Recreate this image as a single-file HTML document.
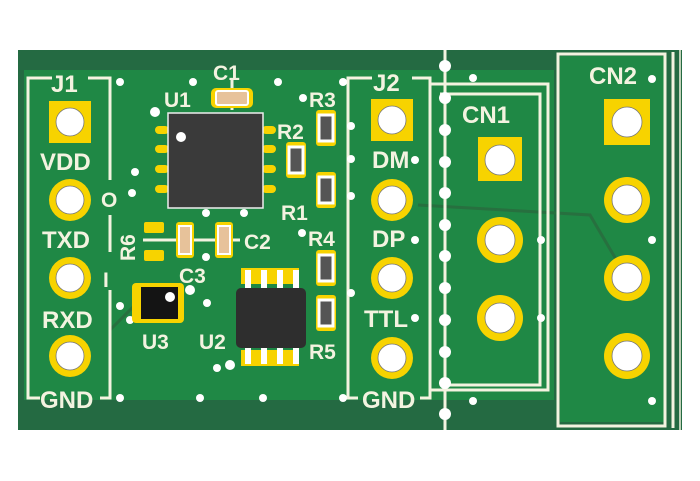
<!DOCTYPE html>
<html><head><style>body{margin:0;background:#fff}svg{display:block}</style></head><body>
<svg width="700" height="481" viewBox="0 0 700 481" xmlns="http://www.w3.org/2000/svg" font-family="Liberation Sans, sans-serif">
<rect x="18" y="50" width="664" height="380" fill="#246a42"/>
<rect x="24" y="70" width="530" height="330" fill="#1f8845"/>
<rect x="560" y="56" width="104" height="366" fill="#1f8845"/>
<!-- traces -->
<g stroke="#27703f" stroke-width="3" fill="none">
<path d="M418 205 L590 215 L627 278"/>
<path d="M110 330 L140 300"/>
</g>
<!-- silk outlines -->
<g stroke="#f3f3e0" stroke-width="3" fill="none">
<path d="M52 78 H28 V398 H40 M88 78 H110 V180 M110 215 V252 M110 290 V398 H100"/>
<path d="M372 78 H348 V398 H358 M412 78 H430 V398 H420"/>
<path d="M430 84 H548 V390 H430"/>
<path d="M440 94 H540 V385 H440"/>
<rect x="558" y="54" width="107" height="372"/>
<line x1="673" y1="52" x2="673" y2="428"/>
<line x1="445" y1="50" x2="445" y2="430"/>
<line x1="143" y1="240" x2="240" y2="240"/>
<line x1="232" y1="80" x2="232" y2="110"/>
</g>
<line x1="680" y1="50" x2="680" y2="430" stroke="#f3f3e0" stroke-width="1.5"/>
<g fill="#fff">
<circle cx="445" cy="66" r="6"/><circle cx="445" cy="98" r="6"/><circle cx="445" cy="130" r="6"/><circle cx="445" cy="162" r="6"/><circle cx="445" cy="193" r="6"/><circle cx="445" cy="225" r="6"/><circle cx="445" cy="256" r="6"/><circle cx="445" cy="288" r="6"/><circle cx="445" cy="320" r="6"/><circle cx="445" cy="352" r="6"/><circle cx="445" cy="383" r="6"/><circle cx="445" cy="414" r="6"/>
<circle cx="120" cy="82" r="4"/><circle cx="193" cy="82" r="4"/><circle cx="278" cy="82" r="4"/><circle cx="303" cy="98" r="4"/><circle cx="343" cy="82" r="4"/><circle cx="155" cy="112" r="5"/>
<circle cx="135" cy="172" r="4"/><circle cx="132" cy="193" r="4"/><circle cx="206" cy="213" r="4"/><circle cx="244" cy="213" r="4"/><circle cx="302" cy="233" r="4"/><circle cx="206" cy="257" r="4"/><circle cx="190" cy="290" r="5"/><circle cx="207" cy="303" r="4"/><circle cx="120" cy="306" r="4"/><circle cx="130" cy="320" r="4"/><circle cx="217" cy="368" r="4"/><circle cx="230" cy="365" r="5"/><circle cx="295" cy="360" r="4"/>
<circle cx="120" cy="398" r="4"/><circle cx="200" cy="398" r="4"/><circle cx="263" cy="398" r="4"/><circle cx="343" cy="398" r="4"/>
<circle cx="351" cy="126" r="4"/><circle cx="351" cy="159" r="4"/><circle cx="351" cy="196" r="4"/><circle cx="351" cy="293" r="4"/>
<circle cx="415" cy="160" r="4"/><circle cx="415" cy="240" r="4"/><circle cx="415" cy="318" r="4"/>
<circle cx="473" cy="78" r="4"/><circle cx="473" cy="401" r="4"/><circle cx="541" cy="240" r="4"/><circle cx="541" cy="318" r="4"/>
<circle cx="652" cy="79" r="4"/><circle cx="652" cy="240" r="4"/><circle cx="652" cy="401" r="4"/>
</g>
<g fill="#f7d300">
<rect x="49" y="101" width="42" height="42"/><rect x="371" y="99" width="42" height="42"/><rect x="478" y="137" width="44" height="44"/><rect x="604" y="99" width="46" height="46"/>
<circle cx="70" cy="200" r="21"/><circle cx="70" cy="278" r="21"/><circle cx="70" cy="356" r="21"/>
<circle cx="392" cy="200" r="21"/><circle cx="392" cy="278" r="21"/><circle cx="392" cy="358" r="21"/>
<circle cx="500" cy="240" r="23"/><circle cx="500" cy="318" r="23"/>
<circle cx="627" cy="200" r="23"/><circle cx="627" cy="278" r="23"/><circle cx="627" cy="356" r="23"/>
</g>
<g fill="#fff" stroke="#777" stroke-width="0.8">
<circle cx="70" cy="122" r="14"/><circle cx="70" cy="200" r="14"/><circle cx="70" cy="278" r="14"/><circle cx="70" cy="356" r="14"/>
<circle cx="392" cy="120" r="14"/><circle cx="392" cy="200" r="14"/><circle cx="392" cy="278" r="14"/><circle cx="392" cy="358" r="14"/>
<circle cx="500" cy="160" r="15"/><circle cx="500" cy="240" r="15"/><circle cx="500" cy="318" r="15"/>
<circle cx="627" cy="122" r="15"/><circle cx="627" cy="200" r="15"/><circle cx="627" cy="278" r="15"/><circle cx="627" cy="356" r="15"/>
</g>
<g fill="#f7d300">
<rect x="155" y="126" width="14" height="8" rx="4"/><rect x="155" y="145" width="14" height="8" rx="4"/><rect x="155" y="165" width="14" height="8" rx="4"/><rect x="155" y="185" width="14" height="8" rx="4"/>
<rect x="262" y="126" width="14" height="8" rx="4"/><rect x="262" y="145" width="14" height="8" rx="4"/><rect x="262" y="165" width="14" height="8" rx="4"/><rect x="262" y="185" width="14" height="8" rx="4"/>
<rect x="211" y="88" width="42" height="20" rx="5"/>
<rect x="316" y="110" width="20" height="36" rx="3"/><rect x="286" y="142" width="20" height="36" rx="3"/><rect x="316" y="172" width="20" height="36" rx="3"/>
<rect x="316" y="250" width="20" height="36" rx="3"/><rect x="316" y="295" width="20" height="36" rx="3"/>
<rect x="144" y="222" width="20" height="11" rx="2"/><rect x="144" y="250" width="20" height="11" rx="2"/>
<rect x="176" y="222" width="18" height="36" rx="3"/><rect x="215" y="222" width="18" height="36" rx="3"/>
<rect x="132" y="283" width="52" height="40" rx="4"/>
<rect x="241" y="268" width="58" height="16"/><rect x="241" y="350" width="58" height="16"/>
</g>
<rect x="168" y="113" width="95" height="95" fill="#3a3a3a" stroke="#eee" stroke-width="1.5"/>
<circle cx="181" cy="137" r="5" fill="#fff"/>
<rect x="216" y="91" width="32" height="14" rx="2" fill="#e7c29a" stroke="#fff" stroke-width="2"/>
<g fill="#555" stroke="#fff" stroke-width="3"><rect x="319" y="115" width="14" height="26"/><rect x="289" y="147" width="14" height="26"/><rect x="319" y="177" width="14" height="26"/><rect x="319" y="255" width="14" height="26"/><rect x="319" y="300" width="14" height="26"/></g>
<g fill="#e7c29a" stroke="#fff" stroke-width="2"><rect x="179" y="226" width="12" height="28"/><rect x="218" y="226" width="12" height="28"/></g>
<rect x="141" y="287" width="37" height="32" fill="#141414"/>
<circle cx="170" cy="297" r="5" fill="#fff"/>
<g fill="#fff"><rect x="245" y="270" width="6" height="20"/><rect x="261" y="270" width="6" height="20"/><rect x="277" y="270" width="6" height="20"/><rect x="293" y="270" width="6" height="20"/>
<rect x="245" y="346" width="6" height="18"/><rect x="261" y="346" width="6" height="18"/><rect x="277" y="346" width="6" height="18"/><rect x="293" y="346" width="6" height="18"/></g>
<rect x="236" y="288" width="70" height="60" rx="5" fill="#2e2e2e"/>
<g fill="#f3f3e0" font-size="24" font-weight="bold">
<text x="51" y="92">J1</text><text x="40" y="170">VDD</text><text x="42" y="248">TXD</text><text x="42" y="328">RXD</text><text x="40" y="408">GND</text>
<text x="101" y="207" font-size="21">O</text><text x="103" y="287" font-size="21">I</text>
<text x="213" y="80" font-size="21">C1</text><text x="164" y="107" font-size="21">U1</text><text x="309" y="107" font-size="21">R3</text><text x="277" y="139" font-size="21">R2</text><text x="281" y="220" font-size="21">R1</text><text x="308" y="246" font-size="21">R4</text><text x="244" y="249" font-size="21">C2</text><text x="179" y="283" font-size="21">C3</text><text x="142" y="349" font-size="21">U3</text><text x="199" y="349" font-size="21">U2</text><text x="309" y="359" font-size="21">R5</text>
<text x="135" y="261" font-size="21" transform="rotate(-90 135 261)">R6</text>
<text x="373" y="91">J2</text><text x="372" y="168">DM</text><text x="372" y="247">DP</text><text x="364" y="327">TTL</text><text x="362" y="408">GND</text>
<text x="462" y="123">CN1</text><text x="589" y="84">CN2</text>
</g>
</svg>
</body></html>
